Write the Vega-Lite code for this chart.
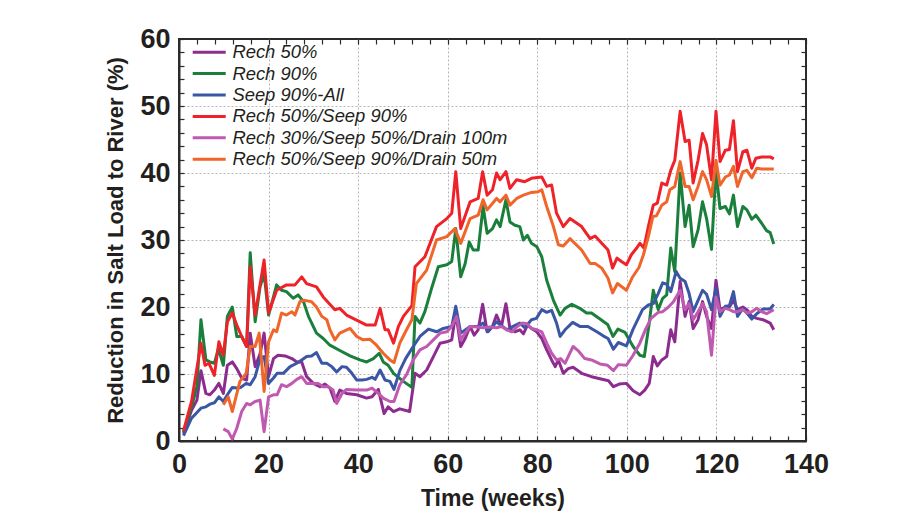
{
  "$schema": "https://vega.github.io/schema/vega-lite/v6.json",
  "autosize": {"type": "none"},
  "padding": {"left": 179, "top": 39, "right": 100, "bottom": 88},
  "width": 627,
  "height": 402,
  "background": "white",
  "config": {
    "view": {"stroke": "#2b2b2b", "strokeWidth": 2},
    "font": "Liberation Sans",
    "axis": {
      "labelFont": "Liberation Sans", "labelFontWeight": "bold", "labelFontSize": 27, "labelColor": "#231f20",
      "titleFont": "Liberation Sans", "titleFontWeight": "bold", "titleColor": "#231f20",
      "domainColor": "#2b2b2b", "domainWidth": 2, "tickColor": "#2b2b2b", "tickWidth": 1.2, "tickSize": -5,
      "gridColor": "#b5b5b5", "gridDash": [2, 2], "gridWidth": 1
    }
  },
  "data": {"values": [
    {"s":"Rech 50%","t":1,"v":1.1},{"s":"Rech 50%","t":2.8,"v":4.6},{"s":"Rech 50%","t":4,"v":6.1},{"s":"Rech 50%","t":4.9,"v":10.5},{"s":"Rech 50%","t":6,"v":7.1},{"s":"Rech 50%","t":6.9,"v":6.9},{"s":"Rech 50%","t":7.9,"v":7.6},{"s":"Rech 50%","t":8.9,"v":8.6},{"s":"Rech 50%","t":9.9,"v":7.1},{"s":"Rech 50%","t":10.8,"v":11.3},{"s":"Rech 50%","t":11.9,"v":11.8},{"s":"Rech 50%","t":12.9,"v":10.8},{"s":"Rech 50%","t":14,"v":9.4},{"s":"Rech 50%","t":15.1,"v":9.1},{"s":"Rech 50%","t":15.9,"v":16.1},{"s":"Rech 50%","t":17,"v":11.1},{"s":"Rech 50%","t":18.1,"v":13},{"s":"Rech 50%","t":19,"v":16.1},{"s":"Rech 50%","t":20,"v":9.6},{"s":"Rech 50%","t":21.1,"v":12.3},{"s":"Rech 50%","t":22.1,"v":12.8},{"s":"Rech 50%","t":23.7,"v":12.7},{"s":"Rech 50%","t":25.2,"v":12.3},{"s":"Rech 50%","t":26.3,"v":11.8},{"s":"Rech 50%","t":27.4,"v":11.8},{"s":"Rech 50%","t":28.5,"v":9.6},{"s":"Rech 50%","t":30,"v":8.6},{"s":"Rech 50%","t":31.5,"v":8.1},{"s":"Rech 50%","t":32.6,"v":8.5},{"s":"Rech 50%","t":33.7,"v":7.9},{"s":"Rech 50%","t":34.8,"v":5.9},{"s":"Rech 50%","t":35.9,"v":7.6},{"s":"Rech 50%","t":37.4,"v":7.1},{"s":"Rech 50%","t":39.7,"v":6.9},{"s":"Rech 50%","t":41.9,"v":6.4},{"s":"Rech 50%","t":43.1,"v":6.6},{"s":"Rech 50%","t":44.5,"v":7.7},{"s":"Rech 50%","t":45.8,"v":4.1},{"s":"Rech 50%","t":46.7,"v":5.1},{"s":"Rech 50%","t":47.9,"v":4.4},{"s":"Rech 50%","t":49.3,"v":4.8},{"s":"Rech 50%","t":51.5,"v":4.4},{"s":"Rech 50%","t":52.7,"v":10.1},{"s":"Rech 50%","t":53.8,"v":9.6},{"s":"Rech 50%","t":55.3,"v":10.6},{"s":"Rech 50%","t":56.8,"v":12.6},{"s":"Rech 50%","t":58.3,"v":14.6},{"s":"Rech 50%","t":59.8,"v":14.8},{"s":"Rech 50%","t":60.9,"v":15.1},{"s":"Rech 50%","t":61.8,"v":19.1},{"s":"Rech 50%","t":62.9,"v":14.1},{"s":"Rech 50%","t":63.9,"v":15.3},{"s":"Rech 50%","t":65,"v":17.1},{"s":"Rech 50%","t":65.9,"v":15.8},{"s":"Rech 50%","t":66.8,"v":16.6},{"s":"Rech 50%","t":67.8,"v":20.4},{"s":"Rech 50%","t":68.8,"v":16.3},{"s":"Rech 50%","t":70,"v":17.1},{"s":"Rech 50%","t":70.9,"v":18.8},{"s":"Rech 50%","t":72,"v":17.1},{"s":"Rech 50%","t":73,"v":20.5},{"s":"Rech 50%","t":73.9,"v":16.8},{"s":"Rech 50%","t":75,"v":16.3},{"s":"Rech 50%","t":76.1,"v":16.6},{"s":"Rech 50%","t":76.9,"v":16},{"s":"Rech 50%","t":77.8,"v":17.3},{"s":"Rech 50%","t":78.7,"v":16.8},{"s":"Rech 50%","t":79.9,"v":16.3},{"s":"Rech 50%","t":81,"v":15.3},{"s":"Rech 50%","t":82.1,"v":13.6},{"s":"Rech 50%","t":83.2,"v":12.1},{"s":"Rech 50%","t":84,"v":11.1},{"s":"Rech 50%","t":84.7,"v":12.1},{"s":"Rech 50%","t":85.8,"v":10.1},{"s":"Rech 50%","t":86.9,"v":10.8},{"s":"Rech 50%","t":88,"v":11},{"s":"Rech 50%","t":89.9,"v":10.1},{"s":"Rech 50%","t":92.1,"v":9.6},{"s":"Rech 50%","t":94,"v":9.3},{"s":"Rech 50%","t":95.9,"v":9},{"s":"Rech 50%","t":97,"v":8.1},{"s":"Rech 50%","t":98.3,"v":8.5},{"s":"Rech 50%","t":99.9,"v":8.6},{"s":"Rech 50%","t":101.4,"v":7.5},{"s":"Rech 50%","t":102.9,"v":6.9},{"s":"Rech 50%","t":104,"v":7.6},{"s":"Rech 50%","t":105,"v":8.6},{"s":"Rech 50%","t":105.9,"v":12.6},{"s":"Rech 50%","t":106.8,"v":11.2},{"s":"Rech 50%","t":107.8,"v":12.1},{"s":"Rech 50%","t":108.9,"v":12.6},{"s":"Rech 50%","t":109.8,"v":16.6},{"s":"Rech 50%","t":110.7,"v":14.8},{"s":"Rech 50%","t":111.9,"v":23.8},{"s":"Rech 50%","t":113,"v":18.6},{"s":"Rech 50%","t":113.9,"v":20.8},{"s":"Rech 50%","t":114.8,"v":16.8},{"s":"Rech 50%","t":115.9,"v":18.1},{"s":"Rech 50%","t":116.9,"v":20.8},{"s":"Rech 50%","t":117.8,"v":18.6},{"s":"Rech 50%","t":118.9,"v":16.8},{"s":"Rech 50%","t":119.9,"v":24},{"s":"Rech 50%","t":120.8,"v":19.6},{"s":"Rech 50%","t":122,"v":20},{"s":"Rech 50%","t":122.9,"v":20},{"s":"Rech 50%","t":123.8,"v":21},{"s":"Rech 50%","t":124.7,"v":19.6},{"s":"Rech 50%","t":125.9,"v":20},{"s":"Rech 50%","t":126.8,"v":19.6},{"s":"Rech 50%","t":127.9,"v":18.6},{"s":"Rech 50%","t":129,"v":18.3},{"s":"Rech 50%","t":130.4,"v":18.1},{"s":"Rech 50%","t":132,"v":17.6},{"s":"Rech 50%","t":132.8,"v":16.6},

    {"s":"Rech 90%","t":1,"v":1.3},{"s":"Rech 90%","t":2.8,"v":5.1},{"s":"Rech 90%","t":4,"v":8.1},{"s":"Rech 90%","t":4.9,"v":18.1},{"s":"Rech 90%","t":6,"v":12.1},{"s":"Rech 90%","t":6.9,"v":11.8},{"s":"Rech 90%","t":7.9,"v":11.6},{"s":"Rech 90%","t":8.8,"v":13.8},{"s":"Rech 90%","t":9.9,"v":11.3},{"s":"Rech 90%","t":10.8,"v":18.6},{"s":"Rech 90%","t":11.9,"v":20},{"s":"Rech 90%","t":12.9,"v":15.6},{"s":"Rech 90%","t":14,"v":15.6},{"s":"Rech 90%","t":15.1,"v":14.1},{"s":"Rech 90%","t":15.9,"v":28.1},{"s":"Rech 90%","t":17,"v":17.8},{"s":"Rech 90%","t":18.1,"v":23},{"s":"Rech 90%","t":19,"v":25},{"s":"Rech 90%","t":20,"v":18.8},{"s":"Rech 90%","t":21.8,"v":23.3},{"s":"Rech 90%","t":22.9,"v":22.5},{"s":"Rech 90%","t":24,"v":22.3},{"s":"Rech 90%","t":25.5,"v":21.3},{"s":"Rech 90%","t":26.6,"v":21.8},{"s":"Rech 90%","t":27.8,"v":20.8},{"s":"Rech 90%","t":28.9,"v":18.6},{"s":"Rech 90%","t":30.7,"v":16.1},{"s":"Rech 90%","t":32.2,"v":15.3},{"s":"Rech 90%","t":33.7,"v":14.3},{"s":"Rech 90%","t":35.9,"v":13.5},{"s":"Rech 90%","t":38.2,"v":12.7},{"s":"Rech 90%","t":40.4,"v":12.1},{"s":"Rech 90%","t":41.9,"v":11.8},{"s":"Rech 90%","t":43.4,"v":12.3},{"s":"Rech 90%","t":44.7,"v":13.1},{"s":"Rech 90%","t":45.6,"v":11.8},{"s":"Rech 90%","t":46.7,"v":11.3},{"s":"Rech 90%","t":47.9,"v":10.1},{"s":"Rech 90%","t":50.1,"v":8.9},{"s":"Rech 90%","t":52,"v":8},{"s":"Rech 90%","t":52.7,"v":18.6},{"s":"Rech 90%","t":53.8,"v":17.6},{"s":"Rech 90%","t":54.9,"v":19.3},{"s":"Rech 90%","t":56.4,"v":22.8},{"s":"Rech 90%","t":57.9,"v":26},{"s":"Rech 90%","t":59.8,"v":26.3},{"s":"Rech 90%","t":60.9,"v":26.8},{"s":"Rech 90%","t":61.8,"v":31.7},{"s":"Rech 90%","t":62.9,"v":24.5},{"s":"Rech 90%","t":63.9,"v":26.5},{"s":"Rech 90%","t":64.8,"v":29.7},{"s":"Rech 90%","t":65.7,"v":28.5},{"s":"Rech 90%","t":66.8,"v":28.5},{"s":"Rech 90%","t":67.9,"v":35},{"s":"Rech 90%","t":68.8,"v":31},{"s":"Rech 90%","t":70,"v":31.7},{"s":"Rech 90%","t":70.9,"v":33},{"s":"Rech 90%","t":71.7,"v":32},{"s":"Rech 90%","t":73,"v":36},{"s":"Rech 90%","t":73.9,"v":32.7},{"s":"Rech 90%","t":75,"v":32.2},{"s":"Rech 90%","t":76.1,"v":32},{"s":"Rech 90%","t":76.9,"v":30},{"s":"Rech 90%","t":77.8,"v":30.7},{"s":"Rech 90%","t":78.7,"v":29.5},{"s":"Rech 90%","t":79.9,"v":29},{"s":"Rech 90%","t":81,"v":27.5},{"s":"Rech 90%","t":82.1,"v":24},{"s":"Rech 90%","t":83.6,"v":21},{"s":"Rech 90%","t":85.1,"v":18.8},{"s":"Rech 90%","t":86.2,"v":19.8},{"s":"Rech 90%","t":87.7,"v":20.4},{"s":"Rech 90%","t":89.5,"v":19.8},{"s":"Rech 90%","t":91,"v":19.1},{"s":"Rech 90%","t":92.1,"v":19.1},{"s":"Rech 90%","t":94,"v":18.2},{"s":"Rech 90%","t":95.7,"v":17.4},{"s":"Rech 90%","t":96.9,"v":15.6},{"s":"Rech 90%","t":98,"v":16.7},{"s":"Rech 90%","t":99.6,"v":16.2},{"s":"Rech 90%","t":101.4,"v":14.1},{"s":"Rech 90%","t":102.9,"v":12.8},{"s":"Rech 90%","t":103.9,"v":12.6},{"s":"Rech 90%","t":105,"v":17.6},{"s":"Rech 90%","t":105.9,"v":22.5},{"s":"Rech 90%","t":107,"v":19.6},{"s":"Rech 90%","t":108,"v":21.3},{"s":"Rech 90%","t":108.9,"v":21.8},{"s":"Rech 90%","t":109.8,"v":28.8},{"s":"Rech 90%","t":110.7,"v":25.3},{"s":"Rech 90%","t":111.9,"v":40},{"s":"Rech 90%","t":113,"v":32},{"s":"Rech 90%","t":113.9,"v":35.2},{"s":"Rech 90%","t":114.8,"v":29},{"s":"Rech 90%","t":115.9,"v":31.5},{"s":"Rech 90%","t":116.9,"v":35.7},{"s":"Rech 90%","t":117.8,"v":33.2},{"s":"Rech 90%","t":118.9,"v":28.6},{"s":"Rech 90%","t":119.9,"v":40.4},{"s":"Rech 90%","t":120.8,"v":34.7},{"s":"Rech 90%","t":122,"v":35},{"s":"Rech 90%","t":122.9,"v":33.9},{"s":"Rech 90%","t":123.8,"v":36.7},{"s":"Rech 90%","t":124.7,"v":32},{"s":"Rech 90%","t":125.9,"v":35},{"s":"Rech 90%","t":126.8,"v":34.5},{"s":"Rech 90%","t":127.9,"v":33.1},{"s":"Rech 90%","t":128.8,"v":33.7},{"s":"Rech 90%","t":130.1,"v":32.5},{"s":"Rech 90%","t":131.2,"v":31.4},{"s":"Rech 90%","t":132,"v":31.1},{"s":"Rech 90%","t":132.8,"v":29.4},

    {"s":"Seep 90%-All","t":1,"v":0.8},{"s":"Seep 90%-All","t":2.8,"v":3.4},{"s":"Seep 90%-All","t":4.9,"v":4.9},{"s":"Seep 90%-All","t":6,"v":5.1},{"s":"Seep 90%-All","t":6.9,"v":5.5},{"s":"Seep 90%-All","t":7.9,"v":5.7},{"s":"Seep 90%-All","t":8.9,"v":6.6},{"s":"Seep 90%-All","t":9.9,"v":5.9},{"s":"Seep 90%-All","t":10.8,"v":6.9},{"s":"Seep 90%-All","t":11.9,"v":8},{"s":"Seep 90%-All","t":12.9,"v":7.9},{"s":"Seep 90%-All","t":13.8,"v":8},{"s":"Seep 90%-All","t":15,"v":8.6},{"s":"Seep 90%-All","t":15.9,"v":8.4},{"s":"Seep 90%-All","t":17,"v":9.6},{"s":"Seep 90%-All","t":18.1,"v":12.3},{"s":"Seep 90%-All","t":19,"v":12.6},{"s":"Seep 90%-All","t":20,"v":8.6},{"s":"Seep 90%-All","t":21.1,"v":9.4},{"s":"Seep 90%-All","t":21.9,"v":10.1},{"s":"Seep 90%-All","t":23.3,"v":10.1},{"s":"Seep 90%-All","t":24.8,"v":11.1},{"s":"Seep 90%-All","t":26.3,"v":11.6},{"s":"Seep 90%-All","t":27.4,"v":12.1},{"s":"Seep 90%-All","t":28.5,"v":12.6},{"s":"Seep 90%-All","t":29.6,"v":12.7},{"s":"Seep 90%-All","t":30.7,"v":13.2},{"s":"Seep 90%-All","t":31.9,"v":11.6},{"s":"Seep 90%-All","t":33,"v":11.6},{"s":"Seep 90%-All","t":34.1,"v":11.1},{"s":"Seep 90%-All","t":35.2,"v":10.3},{"s":"Seep 90%-All","t":36.4,"v":11.1},{"s":"Seep 90%-All","t":37.4,"v":11},{"s":"Seep 90%-All","t":38.6,"v":10.1},{"s":"Seep 90%-All","t":39.7,"v":9.1},{"s":"Seep 90%-All","t":40.9,"v":9.1},{"s":"Seep 90%-All","t":41.9,"v":9.2},{"s":"Seep 90%-All","t":43.1,"v":9.5},{"s":"Seep 90%-All","t":43.8,"v":9.2},{"s":"Seep 90%-All","t":44.9,"v":10.6},{"s":"Seep 90%-All","t":46,"v":9.1},{"s":"Seep 90%-All","t":47.1,"v":8.9},{"s":"Seep 90%-All","t":48,"v":7.7},{"s":"Seep 90%-All","t":49.3,"v":10.5},{"s":"Seep 90%-All","t":50.6,"v":12.3},{"s":"Seep 90%-All","t":52.3,"v":14.1},{"s":"Seep 90%-All","t":53.8,"v":15.6},{"s":"Seep 90%-All","t":55.7,"v":16.7},{"s":"Seep 90%-All","t":57.5,"v":16.3},{"s":"Seep 90%-All","t":59,"v":16.8},{"s":"Seep 90%-All","t":60.9,"v":17.1},{"s":"Seep 90%-All","t":61.8,"v":20.1},{"s":"Seep 90%-All","t":62.9,"v":16.1},{"s":"Seep 90%-All","t":65,"v":17.1},{"s":"Seep 90%-All","t":66.8,"v":17.1},{"s":"Seep 90%-All","t":67.9,"v":17.6},{"s":"Seep 90%-All","t":69,"v":16.3},{"s":"Seep 90%-All","t":70.9,"v":17.8},{"s":"Seep 90%-All","t":72,"v":17.2},{"s":"Seep 90%-All","t":73.2,"v":16.6},{"s":"Seep 90%-All","t":74.6,"v":17.1},{"s":"Seep 90%-All","t":76.1,"v":17.6},{"s":"Seep 90%-All","t":77.2,"v":16.9},{"s":"Seep 90%-All","t":78.7,"v":18.1},{"s":"Seep 90%-All","t":79.8,"v":18.3},{"s":"Seep 90%-All","t":81,"v":19.6},{"s":"Seep 90%-All","t":82.1,"v":19.2},{"s":"Seep 90%-All","t":83.2,"v":19.5},{"s":"Seep 90%-All","t":84.3,"v":17.6},{"s":"Seep 90%-All","t":85.1,"v":15.6},{"s":"Seep 90%-All","t":86.2,"v":16.6},{"s":"Seep 90%-All","t":87.9,"v":17.7},{"s":"Seep 90%-All","t":89.5,"v":17.1},{"s":"Seep 90%-All","t":91.3,"v":17.1},{"s":"Seep 90%-All","t":93.3,"v":16.3},{"s":"Seep 90%-All","t":94.7,"v":15.7},{"s":"Seep 90%-All","t":95.8,"v":15.3},{"s":"Seep 90%-All","t":97,"v":13.7},{"s":"Seep 90%-All","t":98.1,"v":14.7},{"s":"Seep 90%-All","t":99.9,"v":14.2},{"s":"Seep 90%-All","t":101.4,"v":16.7},{"s":"Seep 90%-All","t":103.5,"v":19.6},{"s":"Seep 90%-All","t":104.8,"v":20.3},{"s":"Seep 90%-All","t":105.9,"v":20.5},{"s":"Seep 90%-All","t":107,"v":22},{"s":"Seep 90%-All","t":108,"v":23.6},{"s":"Seep 90%-All","t":108.9,"v":23.4},{"s":"Seep 90%-All","t":109.8,"v":22.3},{"s":"Seep 90%-All","t":111,"v":25.3},{"s":"Seep 90%-All","t":111.9,"v":24.3},{"s":"Seep 90%-All","t":113,"v":23.8},{"s":"Seep 90%-All","t":113.9,"v":22},{"s":"Seep 90%-All","t":114.8,"v":19.3},{"s":"Seep 90%-All","t":115.9,"v":21},{"s":"Seep 90%-All","t":116.9,"v":22.5},{"s":"Seep 90%-All","t":117.8,"v":21.9},{"s":"Seep 90%-All","t":118.9,"v":19.6},{"s":"Seep 90%-All","t":119.9,"v":22.8},{"s":"Seep 90%-All","t":120.8,"v":18.6},{"s":"Seep 90%-All","t":122,"v":20.1},{"s":"Seep 90%-All","t":122.9,"v":20.2},{"s":"Seep 90%-All","t":123.8,"v":22.3},{"s":"Seep 90%-All","t":124.7,"v":18.6},{"s":"Seep 90%-All","t":125.9,"v":19.8},{"s":"Seep 90%-All","t":126.8,"v":19.1},{"s":"Seep 90%-All","t":127.9,"v":18.2},{"s":"Seep 90%-All","t":129,"v":19},{"s":"Seep 90%-All","t":130.4,"v":19.7},{"s":"Seep 90%-All","t":132,"v":19.7},{"s":"Seep 90%-All","t":132.8,"v":20.4},

    {"s":"Rech 50%/Seep 90%","t":1,"v":1.5},{"s":"Rech 50%/Seep 90%","t":2.8,"v":5.9},{"s":"Rech 50%/Seep 90%","t":4.9,"v":14.6},{"s":"Rech 50%/Seep 90%","t":5.8,"v":11.3},{"s":"Rech 50%/Seep 90%","t":6.7,"v":11.6},{"s":"Rech 50%/Seep 90%","t":7.9,"v":9.8},{"s":"Rech 50%/Seep 90%","t":8.9,"v":14.8},{"s":"Rech 50%/Seep 90%","t":9.9,"v":12.8},{"s":"Rech 50%/Seep 90%","t":10.8,"v":17.8},{"s":"Rech 50%/Seep 90%","t":11.9,"v":19.1},{"s":"Rech 50%/Seep 90%","t":12.9,"v":17.3},{"s":"Rech 50%/Seep 90%","t":14,"v":15.6},{"s":"Rech 50%/Seep 90%","t":15.1,"v":14.1},{"s":"Rech 50%/Seep 90%","t":15.9,"v":26},{"s":"Rech 50%/Seep 90%","t":17,"v":18.8},{"s":"Rech 50%/Seep 90%","t":19,"v":27},{"s":"Rech 50%/Seep 90%","t":20,"v":19.1},{"s":"Rech 50%/Seep 90%","t":21.8,"v":22.5},{"s":"Rech 50%/Seep 90%","t":24,"v":23.3},{"s":"Rech 50%/Seep 90%","t":25.9,"v":23.3},{"s":"Rech 50%/Seep 90%","t":27.4,"v":24.5},{"s":"Rech 50%/Seep 90%","t":28.5,"v":23.5},{"s":"Rech 50%/Seep 90%","t":30.7,"v":23},{"s":"Rech 50%/Seep 90%","t":32.2,"v":21.5},{"s":"Rech 50%/Seep 90%","t":34.8,"v":19.6},{"s":"Rech 50%/Seep 90%","t":35.9,"v":19.8},{"s":"Rech 50%/Seep 90%","t":37.4,"v":18.8},{"s":"Rech 50%/Seep 90%","t":41.9,"v":17.3},{"s":"Rech 50%/Seep 90%","t":43.8,"v":17.3},{"s":"Rech 50%/Seep 90%","t":44.9,"v":19.8},{"s":"Rech 50%/Seep 90%","t":46,"v":16.6},{"s":"Rech 50%/Seep 90%","t":46.7,"v":16.6},{"s":"Rech 50%/Seep 90%","t":47.9,"v":14.6},{"s":"Rech 50%/Seep 90%","t":49,"v":17.1},{"s":"Rech 50%/Seep 90%","t":50.1,"v":18.6},{"s":"Rech 50%/Seep 90%","t":52,"v":20.2},{"s":"Rech 50%/Seep 90%","t":52.7,"v":26},{"s":"Rech 50%/Seep 90%","t":54.9,"v":27.5},{"s":"Rech 50%/Seep 90%","t":57.5,"v":32},{"s":"Rech 50%/Seep 90%","t":59.8,"v":33.2},{"s":"Rech 50%/Seep 90%","t":60.9,"v":34},{"s":"Rech 50%/Seep 90%","t":61.8,"v":40.2},{"s":"Rech 50%/Seep 90%","t":62.9,"v":31.7},{"s":"Rech 50%/Seep 90%","t":65,"v":35.7},{"s":"Rech 50%/Seep 90%","t":66.8,"v":36.2},{"s":"Rech 50%/Seep 90%","t":67.8,"v":40.2},{"s":"Rech 50%/Seep 90%","t":68.8,"v":36.7},{"s":"Rech 50%/Seep 90%","t":70,"v":37.5},{"s":"Rech 50%/Seep 90%","t":70.9,"v":40},{"s":"Rech 50%/Seep 90%","t":71.7,"v":39},{"s":"Rech 50%/Seep 90%","t":73,"v":40.2},{"s":"Rech 50%/Seep 90%","t":73.9,"v":37.7},{"s":"Rech 50%/Seep 90%","t":75.4,"v":39},{"s":"Rech 50%/Seep 90%","t":77.2,"v":38.7},{"s":"Rech 50%/Seep 90%","t":78.7,"v":39.2},{"s":"Rech 50%/Seep 90%","t":81,"v":39.4},{"s":"Rech 50%/Seep 90%","t":82.1,"v":38},{"s":"Rech 50%/Seep 90%","t":83.2,"v":38.2},{"s":"Rech 50%/Seep 90%","t":84.3,"v":34},{"s":"Rech 50%/Seep 90%","t":85.8,"v":32},{"s":"Rech 50%/Seep 90%","t":87.3,"v":33.2},{"s":"Rech 50%/Seep 90%","t":89.9,"v":32},{"s":"Rech 50%/Seep 90%","t":91.8,"v":30.2},{"s":"Rech 50%/Seep 90%","t":92.9,"v":30.6},{"s":"Rech 50%/Seep 90%","t":94.4,"v":29.5},{"s":"Rech 50%/Seep 90%","t":95.8,"v":28.5},{"s":"Rech 50%/Seep 90%","t":96.8,"v":25.8},{"s":"Rech 50%/Seep 90%","t":97.8,"v":27.3},{"s":"Rech 50%/Seep 90%","t":98.8,"v":26.8},{"s":"Rech 50%/Seep 90%","t":99.9,"v":26.3},{"s":"Rech 50%/Seep 90%","t":101,"v":27.8},{"s":"Rech 50%/Seep 90%","t":102.2,"v":28.8},{"s":"Rech 50%/Seep 90%","t":102.9,"v":29.5},{"s":"Rech 50%/Seep 90%","t":103.8,"v":28.8},{"s":"Rech 50%/Seep 90%","t":104.8,"v":32},{"s":"Rech 50%/Seep 90%","t":105.9,"v":35.2},{"s":"Rech 50%/Seep 90%","t":106.8,"v":35.5},{"s":"Rech 50%/Seep 90%","t":107.8,"v":38.5},{"s":"Rech 50%/Seep 90%","t":108.9,"v":38.2},{"s":"Rech 50%/Seep 90%","t":109.8,"v":40.4},{"s":"Rech 50%/Seep 90%","t":110.7,"v":41.9},{"s":"Rech 50%/Seep 90%","t":111.9,"v":49.2},{"s":"Rech 50%/Seep 90%","t":113,"v":44.7},{"s":"Rech 50%/Seep 90%","t":113.9,"v":44.9},{"s":"Rech 50%/Seep 90%","t":114.8,"v":38.5},{"s":"Rech 50%/Seep 90%","t":115.9,"v":41.9},{"s":"Rech 50%/Seep 90%","t":116.9,"v":45.9},{"s":"Rech 50%/Seep 90%","t":117.8,"v":44.2},{"s":"Rech 50%/Seep 90%","t":118.9,"v":39},{"s":"Rech 50%/Seep 90%","t":119.9,"v":49.2},{"s":"Rech 50%/Seep 90%","t":120.8,"v":41.7},{"s":"Rech 50%/Seep 90%","t":122,"v":43.4},{"s":"Rech 50%/Seep 90%","t":122.9,"v":43.5},{"s":"Rech 50%/Seep 90%","t":123.8,"v":47.8},{"s":"Rech 50%/Seep 90%","t":124.7,"v":40.2},{"s":"Rech 50%/Seep 90%","t":125.9,"v":43.2},{"s":"Rech 50%/Seep 90%","t":126.8,"v":43.4},{"s":"Rech 50%/Seep 90%","t":127.9,"v":40.7},{"s":"Rech 50%/Seep 90%","t":128.8,"v":42.2},{"s":"Rech 50%/Seep 90%","t":130.1,"v":42.4},{"s":"Rech 50%/Seep 90%","t":132,"v":42.4},{"s":"Rech 50%/Seep 90%","t":132.8,"v":42.1},

    {"s":"Rech 30%/Seep 50%/Drain 100m","t":9.9,"v":1.8},{"s":"Rech 30%/Seep 50%/Drain 100m","t":11,"v":1.4},{"s":"Rech 30%/Seep 50%/Drain 100m","t":11.9,"v":0.3},{"s":"Rech 30%/Seep 50%/Drain 100m","t":12.9,"v":1.9},{"s":"Rech 30%/Seep 50%/Drain 100m","t":14,"v":4.4},{"s":"Rech 30%/Seep 50%/Drain 100m","t":15.1,"v":5.6},{"s":"Rech 30%/Seep 50%/Drain 100m","t":15.9,"v":5.4},{"s":"Rech 30%/Seep 50%/Drain 100m","t":17,"v":5.9},{"s":"Rech 30%/Seep 50%/Drain 100m","t":18.1,"v":6.1},{"s":"Rech 30%/Seep 50%/Drain 100m","t":19,"v":1.4},{"s":"Rech 30%/Seep 50%/Drain 100m","t":20,"v":6.6},{"s":"Rech 30%/Seep 50%/Drain 100m","t":21.1,"v":6.9},{"s":"Rech 30%/Seep 50%/Drain 100m","t":21.9,"v":6.9},{"s":"Rech 30%/Seep 50%/Drain 100m","t":22.9,"v":8.4},{"s":"Rech 30%/Seep 50%/Drain 100m","t":24,"v":8.1},{"s":"Rech 30%/Seep 50%/Drain 100m","t":25.2,"v":8.6},{"s":"Rech 30%/Seep 50%/Drain 100m","t":26.3,"v":9.2},{"s":"Rech 30%/Seep 50%/Drain 100m","t":27.4,"v":9.6},{"s":"Rech 30%/Seep 50%/Drain 100m","t":28.5,"v":8.6},{"s":"Rech 30%/Seep 50%/Drain 100m","t":30,"v":8.6},{"s":"Rech 30%/Seep 50%/Drain 100m","t":31.1,"v":8.6},{"s":"Rech 30%/Seep 50%/Drain 100m","t":32.2,"v":8.1},{"s":"Rech 30%/Seep 50%/Drain 100m","t":33.3,"v":8.1},{"s":"Rech 30%/Seep 50%/Drain 100m","t":34.4,"v":7.6},{"s":"Rech 30%/Seep 50%/Drain 100m","t":35.2,"v":5.6},{"s":"Rech 30%/Seep 50%/Drain 100m","t":36.4,"v":7.1},{"s":"Rech 30%/Seep 50%/Drain 100m","t":37.4,"v":7.7},{"s":"Rech 30%/Seep 50%/Drain 100m","t":39.7,"v":7.6},{"s":"Rech 30%/Seep 50%/Drain 100m","t":41.9,"v":7.6},{"s":"Rech 30%/Seep 50%/Drain 100m","t":43.1,"v":7.9},{"s":"Rech 30%/Seep 50%/Drain 100m","t":44.5,"v":7.1},{"s":"Rech 30%/Seep 50%/Drain 100m","t":45.6,"v":6.4},{"s":"Rech 30%/Seep 50%/Drain 100m","t":47.1,"v":5.9},{"s":"Rech 30%/Seep 50%/Drain 100m","t":48,"v":5.9},{"s":"Rech 30%/Seep 50%/Drain 100m","t":49.3,"v":8.4},{"s":"Rech 30%/Seep 50%/Drain 100m","t":50.8,"v":9.9},{"s":"Rech 30%/Seep 50%/Drain 100m","t":52.3,"v":12.1},{"s":"Rech 30%/Seep 50%/Drain 100m","t":53.8,"v":13.6},{"s":"Rech 30%/Seep 50%/Drain 100m","t":55.3,"v":14.1},{"s":"Rech 30%/Seep 50%/Drain 100m","t":56.8,"v":15.1},{"s":"Rech 30%/Seep 50%/Drain 100m","t":58.3,"v":16.1},{"s":"Rech 30%/Seep 50%/Drain 100m","t":59.8,"v":16.3},{"s":"Rech 30%/Seep 50%/Drain 100m","t":60.9,"v":17.1},{"s":"Rech 30%/Seep 50%/Drain 100m","t":62,"v":18.6},{"s":"Rech 30%/Seep 50%/Drain 100m","t":62.9,"v":15.1},{"s":"Rech 30%/Seep 50%/Drain 100m","t":63.9,"v":16.1},{"s":"Rech 30%/Seep 50%/Drain 100m","t":65,"v":17.1},{"s":"Rech 30%/Seep 50%/Drain 100m","t":66.5,"v":17},{"s":"Rech 30%/Seep 50%/Drain 100m","t":67.9,"v":16.9},{"s":"Rech 30%/Seep 50%/Drain 100m","t":69.4,"v":17},{"s":"Rech 30%/Seep 50%/Drain 100m","t":70.9,"v":16.9},{"s":"Rech 30%/Seep 50%/Drain 100m","t":72,"v":17.1},{"s":"Rech 30%/Seep 50%/Drain 100m","t":73.2,"v":16.6},{"s":"Rech 30%/Seep 50%/Drain 100m","t":74.3,"v":16.3},{"s":"Rech 30%/Seep 50%/Drain 100m","t":75.4,"v":17},{"s":"Rech 30%/Seep 50%/Drain 100m","t":76.6,"v":17.6},{"s":"Rech 30%/Seep 50%/Drain 100m","t":77.7,"v":17.5},{"s":"Rech 30%/Seep 50%/Drain 100m","t":78.7,"v":16.8},{"s":"Rech 30%/Seep 50%/Drain 100m","t":79.9,"v":16.6},{"s":"Rech 30%/Seep 50%/Drain 100m","t":81,"v":16.3},{"s":"Rech 30%/Seep 50%/Drain 100m","t":82.1,"v":14.6},{"s":"Rech 30%/Seep 50%/Drain 100m","t":83.2,"v":13.1},{"s":"Rech 30%/Seep 50%/Drain 100m","t":84.3,"v":12.1},{"s":"Rech 30%/Seep 50%/Drain 100m","t":85.2,"v":12.3},{"s":"Rech 30%/Seep 50%/Drain 100m","t":86.2,"v":11.6},{"s":"Rech 30%/Seep 50%/Drain 100m","t":86.9,"v":12.6},{"s":"Rech 30%/Seep 50%/Drain 100m","t":88,"v":14.1},{"s":"Rech 30%/Seep 50%/Drain 100m","t":89.1,"v":13.5},{"s":"Rech 30%/Seep 50%/Drain 100m","t":90.6,"v":12.3},{"s":"Rech 30%/Seep 50%/Drain 100m","t":92.1,"v":12.1},{"s":"Rech 30%/Seep 50%/Drain 100m","t":94,"v":11.5},{"s":"Rech 30%/Seep 50%/Drain 100m","t":95.7,"v":11.3},{"s":"Rech 30%/Seep 50%/Drain 100m","t":97,"v":10.5},{"s":"Rech 30%/Seep 50%/Drain 100m","t":98.1,"v":11.4},{"s":"Rech 30%/Seep 50%/Drain 100m","t":99.9,"v":11.3},{"s":"Rech 30%/Seep 50%/Drain 100m","t":101.4,"v":12.8},{"s":"Rech 30%/Seep 50%/Drain 100m","t":102.9,"v":14.6},{"s":"Rech 30%/Seep 50%/Drain 100m","t":104.2,"v":16.7},{"s":"Rech 30%/Seep 50%/Drain 100m","t":105.4,"v":18.3},{"s":"Rech 30%/Seep 50%/Drain 100m","t":107,"v":19.2},{"s":"Rech 30%/Seep 50%/Drain 100m","t":108,"v":19.3},{"s":"Rech 30%/Seep 50%/Drain 100m","t":109.3,"v":20},{"s":"Rech 30%/Seep 50%/Drain 100m","t":110.4,"v":20.8},{"s":"Rech 30%/Seep 50%/Drain 100m","t":111.9,"v":22.5},{"s":"Rech 30%/Seep 50%/Drain 100m","t":113,"v":19.6},{"s":"Rech 30%/Seep 50%/Drain 100m","t":113.9,"v":20.5},{"s":"Rech 30%/Seep 50%/Drain 100m","t":114.8,"v":18.1},{"s":"Rech 30%/Seep 50%/Drain 100m","t":115.9,"v":19.3},{"s":"Rech 30%/Seep 50%/Drain 100m","t":116.9,"v":20.5},{"s":"Rech 30%/Seep 50%/Drain 100m","t":117.8,"v":19.3},{"s":"Rech 30%/Seep 50%/Drain 100m","t":118.9,"v":12.8},{"s":"Rech 30%/Seep 50%/Drain 100m","t":119.9,"v":21.5},{"s":"Rech 30%/Seep 50%/Drain 100m","t":120.8,"v":19.3},{"s":"Rech 30%/Seep 50%/Drain 100m","t":122,"v":19.8},{"s":"Rech 30%/Seep 50%/Drain 100m","t":122.9,"v":19.6},{"s":"Rech 30%/Seep 50%/Drain 100m","t":123.8,"v":19.3},{"s":"Rech 30%/Seep 50%/Drain 100m","t":124.7,"v":19.3},{"s":"Rech 30%/Seep 50%/Drain 100m","t":125.9,"v":19.6},{"s":"Rech 30%/Seep 50%/Drain 100m","t":126.8,"v":19.1},{"s":"Rech 30%/Seep 50%/Drain 100m","t":127.9,"v":19.3},{"s":"Rech 30%/Seep 50%/Drain 100m","t":129,"v":19.8},{"s":"Rech 30%/Seep 50%/Drain 100m","t":130.1,"v":19.3},{"s":"Rech 30%/Seep 50%/Drain 100m","t":131.2,"v":19},{"s":"Rech 30%/Seep 50%/Drain 100m","t":132.8,"v":19.6},

    {"s":"Rech 50%/Seep 90%/Drain 50m","t":9.9,"v":5.4},{"s":"Rech 50%/Seep 90%/Drain 50m","t":11,"v":6.6},{"s":"Rech 50%/Seep 90%/Drain 50m","t":11.9,"v":4.4},{"s":"Rech 50%/Seep 90%/Drain 50m","t":13.6,"v":8.9},{"s":"Rech 50%/Seep 90%/Drain 50m","t":15,"v":10.1},{"s":"Rech 50%/Seep 90%/Drain 50m","t":15.9,"v":14.1},{"s":"Rech 50%/Seep 90%/Drain 50m","t":17,"v":14.1},{"s":"Rech 50%/Seep 90%/Drain 50m","t":17.9,"v":16.1},{"s":"Rech 50%/Seep 90%/Drain 50m","t":19,"v":7.4},{"s":"Rech 50%/Seep 90%/Drain 50m","t":20,"v":14.8},{"s":"Rech 50%/Seep 90%/Drain 50m","t":21.1,"v":16.6},{"s":"Rech 50%/Seep 90%/Drain 50m","t":21.8,"v":16.3},{"s":"Rech 50%/Seep 90%/Drain 50m","t":22.9,"v":19.1},{"s":"Rech 50%/Seep 90%/Drain 50m","t":24,"v":18.8},{"s":"Rech 50%/Seep 90%/Drain 50m","t":25.2,"v":19.3},{"s":"Rech 50%/Seep 90%/Drain 50m","t":25.9,"v":18.8},{"s":"Rech 50%/Seep 90%/Drain 50m","t":27,"v":20.8},{"s":"Rech 50%/Seep 90%/Drain 50m","t":27.8,"v":21},{"s":"Rech 50%/Seep 90%/Drain 50m","t":29.6,"v":20.8},{"s":"Rech 50%/Seep 90%/Drain 50m","t":30.7,"v":20},{"s":"Rech 50%/Seep 90%/Drain 50m","t":31.9,"v":18.6},{"s":"Rech 50%/Seep 90%/Drain 50m","t":33,"v":18.1},{"s":"Rech 50%/Seep 90%/Drain 50m","t":33.7,"v":16.6},{"s":"Rech 50%/Seep 90%/Drain 50m","t":34.8,"v":15.1},{"s":"Rech 50%/Seep 90%/Drain 50m","t":35.9,"v":16.1},{"s":"Rech 50%/Seep 90%/Drain 50m","t":38.2,"v":16.8},{"s":"Rech 50%/Seep 90%/Drain 50m","t":39.7,"v":15.6},{"s":"Rech 50%/Seep 90%/Drain 50m","t":41.1,"v":15.1},{"s":"Rech 50%/Seep 90%/Drain 50m","t":42.6,"v":15.2},{"s":"Rech 50%/Seep 90%/Drain 50m","t":44.1,"v":14.3},{"s":"Rech 50%/Seep 90%/Drain 50m","t":45.6,"v":13.1},{"s":"Rech 50%/Seep 90%/Drain 50m","t":47.1,"v":12.1},{"s":"Rech 50%/Seep 90%/Drain 50m","t":48,"v":11.7},{"s":"Rech 50%/Seep 90%/Drain 50m","t":49.3,"v":14.6},{"s":"Rech 50%/Seep 90%/Drain 50m","t":50.8,"v":16.6},{"s":"Rech 50%/Seep 90%/Drain 50m","t":52,"v":18.1},{"s":"Rech 50%/Seep 90%/Drain 50m","t":53,"v":23.5},{"s":"Rech 50%/Seep 90%/Drain 50m","t":55.3,"v":25.5},{"s":"Rech 50%/Seep 90%/Drain 50m","t":57.5,"v":30},{"s":"Rech 50%/Seep 90%/Drain 50m","t":59.8,"v":30.5},{"s":"Rech 50%/Seep 90%/Drain 50m","t":61.6,"v":31.7},{"s":"Rech 50%/Seep 90%/Drain 50m","t":62.9,"v":29.5},{"s":"Rech 50%/Seep 90%/Drain 50m","t":65,"v":33.2},{"s":"Rech 50%/Seep 90%/Drain 50m","t":66.8,"v":33.7},{"s":"Rech 50%/Seep 90%/Drain 50m","t":67.9,"v":36},{"s":"Rech 50%/Seep 90%/Drain 50m","t":68.8,"v":34.5},{"s":"Rech 50%/Seep 90%/Drain 50m","t":70.9,"v":36.2},{"s":"Rech 50%/Seep 90%/Drain 50m","t":71.7,"v":35.7},{"s":"Rech 50%/Seep 90%/Drain 50m","t":73,"v":36.7},{"s":"Rech 50%/Seep 90%/Drain 50m","t":73.9,"v":35.2},{"s":"Rech 50%/Seep 90%/Drain 50m","t":75.4,"v":36.2},{"s":"Rech 50%/Seep 90%/Drain 50m","t":76.9,"v":36.7},{"s":"Rech 50%/Seep 90%/Drain 50m","t":78.7,"v":37.1},{"s":"Rech 50%/Seep 90%/Drain 50m","t":80.2,"v":37.2},{"s":"Rech 50%/Seep 90%/Drain 50m","t":81,"v":37.5},{"s":"Rech 50%/Seep 90%/Drain 50m","t":82.1,"v":35},{"s":"Rech 50%/Seep 90%/Drain 50m","t":83.6,"v":32},{"s":"Rech 50%/Seep 90%/Drain 50m","t":84.7,"v":29.3},{"s":"Rech 50%/Seep 90%/Drain 50m","t":85.8,"v":29.1},{"s":"Rech 50%/Seep 90%/Drain 50m","t":87.3,"v":30.2},{"s":"Rech 50%/Seep 90%/Drain 50m","t":89.9,"v":28.5},{"s":"Rech 50%/Seep 90%/Drain 50m","t":91.8,"v":26.5},{"s":"Rech 50%/Seep 90%/Drain 50m","t":92.9,"v":26.5},{"s":"Rech 50%/Seep 90%/Drain 50m","t":94.4,"v":25.8},{"s":"Rech 50%/Seep 90%/Drain 50m","t":95.8,"v":24.3},{"s":"Rech 50%/Seep 90%/Drain 50m","t":96.8,"v":22.1},{"s":"Rech 50%/Seep 90%/Drain 50m","t":97.9,"v":23.5},{"s":"Rech 50%/Seep 90%/Drain 50m","t":99.9,"v":22.5},{"s":"Rech 50%/Seep 90%/Drain 50m","t":101.2,"v":24.4},{"s":"Rech 50%/Seep 90%/Drain 50m","t":102.7,"v":25.9},{"s":"Rech 50%/Seep 90%/Drain 50m","t":103.7,"v":27.8},{"s":"Rech 50%/Seep 90%/Drain 50m","t":104.8,"v":30.5},{"s":"Rech 50%/Seep 90%/Drain 50m","t":105.8,"v":33.5},{"s":"Rech 50%/Seep 90%/Drain 50m","t":106.6,"v":33.6},{"s":"Rech 50%/Seep 90%/Drain 50m","t":107.8,"v":35.2},{"s":"Rech 50%/Seep 90%/Drain 50m","t":108.9,"v":35.7},{"s":"Rech 50%/Seep 90%/Drain 50m","t":109.6,"v":37.5},{"s":"Rech 50%/Seep 90%/Drain 50m","t":110.7,"v":38},{"s":"Rech 50%/Seep 90%/Drain 50m","t":111.9,"v":41.7},{"s":"Rech 50%/Seep 90%/Drain 50m","t":113,"v":38},{"s":"Rech 50%/Seep 90%/Drain 50m","t":113.9,"v":38},{"s":"Rech 50%/Seep 90%/Drain 50m","t":114.8,"v":36},{"s":"Rech 50%/Seep 90%/Drain 50m","t":115.9,"v":38},{"s":"Rech 50%/Seep 90%/Drain 50m","t":116.9,"v":40.2},{"s":"Rech 50%/Seep 90%/Drain 50m","t":117.8,"v":39},{"s":"Rech 50%/Seep 90%/Drain 50m","t":118.9,"v":36.5},{"s":"Rech 50%/Seep 90%/Drain 50m","t":119.9,"v":41.9},{"s":"Rech 50%/Seep 90%/Drain 50m","t":120.8,"v":38.2},{"s":"Rech 50%/Seep 90%/Drain 50m","t":122,"v":39.4},{"s":"Rech 50%/Seep 90%/Drain 50m","t":122.9,"v":39.7},{"s":"Rech 50%/Seep 90%/Drain 50m","t":123.8,"v":41},{"s":"Rech 50%/Seep 90%/Drain 50m","t":124.7,"v":38},{"s":"Rech 50%/Seep 90%/Drain 50m","t":125.9,"v":40.2},{"s":"Rech 50%/Seep 90%/Drain 50m","t":126.8,"v":40.4},{"s":"Rech 50%/Seep 90%/Drain 50m","t":127.9,"v":39.3},{"s":"Rech 50%/Seep 90%/Drain 50m","t":129,"v":40.7},{"s":"Rech 50%/Seep 90%/Drain 50m","t":130.1,"v":40.6},{"s":"Rech 50%/Seep 90%/Drain 50m","t":132.8,"v":40.6}
  ]},
  "resolve": {"axis": {"x": "independent", "y": "independent"}},
  "layer": [
    {
      "mark": {"type": "line", "strokeWidth": 3, "strokeJoin": "round", "clip": true},
      "encoding": {
        "x": {
          "field": "t", "type": "quantitative",
          "scale": {"domain": [0, 140], "nice": false},
          "axis": {
            "orient": "bottom", "title": "Time (weeks)", "titleFontSize": 23, "titlePadding": 10,
            "values": [0,4,8,12,16,20,24,28,32,36,40,44,48,52,56,60,64,68,72,76,80,84,88,92,96,100,104,108,112,116,120,124,128,132,136,140],
            "labelExpr": "datum.value % 20 === 0 ? datum.label : ''",
            "labelPadding": 15, "labelFlush": false, "labelOverlap": false,
            "grid": true,
            "gridOpacity": {"condition": {"test": "datum.value % 20 === 0 && datum.value > 0 && datum.value < 140", "value": 1}, "value": 0}
          }
        },
        "y": {
          "field": "v", "type": "quantitative",
          "scale": {"domain": [0, 60], "nice": false},
          "axis": {
            "orient": "left", "title": "Reduction in Salt Load to River (%)", "titleFontSize": 22, "titlePadding": 12,
            "values": [0,2,4,6,8,10,12,14,16,18,20,22,24,26,28,30,32,34,36,38,40,42,44,46,48,50,52,54,56,58,60],
            "labelExpr": "datum.value % 10 === 0 ? datum.label : ''",
            "labelPadding": 14, "labelFlush": false, "labelOverlap": false,
            "grid": true,
            "gridOpacity": {"condition": {"test": "datum.value % 10 === 0 && datum.value > 0 && datum.value < 60", "value": 1}, "value": 0}
          }
        },
        "color": {
          "field": "s", "type": "nominal",
          "scale": {
            "domain": ["Rech 50%", "Rech 90%", "Seep 90%-All", "Rech 50%/Seep 90%", "Rech 30%/Seep 50%/Drain 100m", "Rech 50%/Seep 90%/Drain 50m"],
            "range": ["#8d2c8f", "#1b7f3c", "#3a56a5", "#ee2228", "#c05ab0", "#f0652a"]
          },
          "legend": {
            "title": null, "orient": "none", "legendX": 21, "legendY": 4,
            "symbolType": "M-3,0L3,0", "symbolSize": 121, "symbolStrokeWidth": 3,
            "labelFont": "Liberation Sans", "labelFontStyle": "italic", "labelFontSize": 18.4, "labelColor": "#231f20",
            "labelOffset": 14, "rowPadding": 2.4, "labelLimit": 400
          }
        }
      }
    },
    {
      "mark": {"type": "point", "opacity": 0},
      "encoding": {
        "x": {
          "field": "t", "type": "quantitative",
          "axis": {
            "orient": "top", "title": null, "labels": false, "domain": false, "grid": false,
            "values": [0,4,8,12,16,20,24,28,32,36,40,44,48,52,56,60,64,68,72,76,80,84,88,92,96,100,104,108,112,116,120,124,128,132,136,140]
          }
        },
        "y": {
          "field": "v", "type": "quantitative",
          "axis": {
            "orient": "right", "title": null, "labels": false, "domain": false, "grid": false,
            "values": [0,2,4,6,8,10,12,14,16,18,20,22,24,26,28,30,32,34,36,38,40,42,44,46,48,50,52,54,56,58,60]
          }
        }
      }
    }
  ]
}
